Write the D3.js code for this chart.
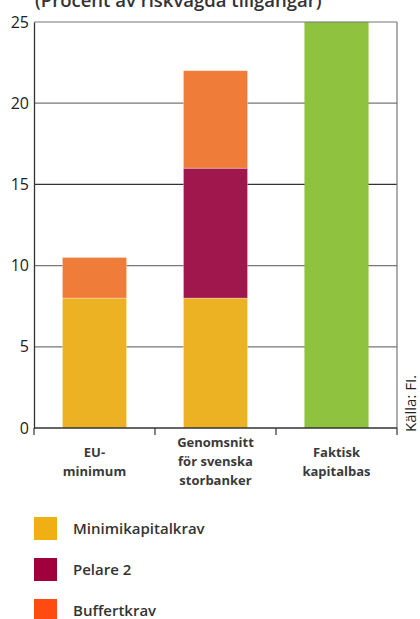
<!DOCTYPE html>
<html><head><meta charset="utf-8">
<script src="https://cdn.jsdelivr.net/npm/d3@7"></script>
<style>
html,body{margin:0;padding:0;background:#fff;}
svg{display:block;font-family:"Open Sans","DejaVu Sans",sans-serif;}
</style></head>
<body>
<svg id="chart" width="420" height="619"></svg>
<script>
// Capital requirements, percent of risk-weighted assets
const categories = [["EU-", "minimum"], ["Genomsnitt", "för svenska", "storbanker"], ["Faktisk", "kapitalbas"]];
const minimikapitalkrav = [8, 8, 0];
const pelare2 = [0, 8, 0];
const buffertkrav = [2.5, 6, 0];
const kapitalbas = [0, 0, 25];
const yTicks = [0, 5, 10, 15, 20, 25];
const seriesNames = ["Minimikapitalkrav", "Pelare 2", "Buffertkrav"];

const barColors = ["#ecb224", "#a0174e", "#f07c3a"];
const legendColors = ["#f0b014", "#a0003c", "#ff4a12"];
const baseColor = "#8fc33f";

const svg = d3.select("#chart");
const m = {left: 34, right: 397, top: 22, bottom: 428};

const idx = categories.map((_, i) => i);
const x = d3.scaleBand().domain(idx).range([m.left, m.right]).paddingInner(0.47).paddingOuter(0.235);
const y = d3.scaleLinear().domain([0, 25]).range([m.bottom, m.top]);

// title, sitting partly above the top edge
svg.append("text").attr("x", 35).attr("y", 7)
  .attr("font-size", 18.5).attr("font-weight", 600).attr("fill", "#333")
  .text("(Procent av riskvägda tillgångar)");

// gridlines
svg.append("g").selectAll("line").data(yTicks.filter(t => t > 0 && t < 25)).join("line")
  .attr("x1", m.left).attr("x2", m.right)
  .attr("y1", d => y(d)).attr("y2", d => y(d))
  .attr("stroke", d => d === 15 ? "#333" : "#777").attr("stroke-width", 1.2);

// stacked bars
const rows = idx.map(i => ({i, v: [minimikapitalkrav[i], pelare2[i], buffertkrav[i]]}));
const gBars = svg.append("g");
rows.forEach(r => {
  let acc = 0;
  r.v.forEach((v, s) => {
    if (v <= 0) return;
    gBars.append("rect")
      .attr("x", x(r.i)).attr("width", x.bandwidth())
      .attr("y", y(acc + v)).attr("height", y(acc) - y(acc + v))
      .attr("fill", barColors[s])
      .attr("stroke", "rgba(255,255,255,0.5)").attr("stroke-width", 0.6);
    acc += v;
  });
  if (kapitalbas[r.i] > 0) {
    gBars.append("rect")
      .attr("x", x(r.i)).attr("width", x.bandwidth())
      .attr("y", y(kapitalbas[r.i])).attr("height", y(0) - y(kapitalbas[r.i]))
      .attr("fill", baseColor);
  }
});

// frame: top and right
svg.append("line").attr("x1", m.left).attr("x2", m.right).attr("y1", m.top).attr("y2", m.top)
  .attr("stroke", "#777").attr("stroke-width", 1.2);
svg.append("line").attr("x1", m.right).attr("x2", m.right).attr("y1", m.top).attr("y2", m.bottom)
  .attr("stroke", "#777").attr("stroke-width", 1.2);

// y axis
const yAxis = svg.append("g").attr("transform", `translate(${m.left},0)`)
  .call(d3.axisLeft(y).tickValues(yTicks).tickSize(0).tickPadding(5));
yAxis.select(".domain").attr("stroke", "#333").attr("stroke-width", 1.3);
yAxis.selectAll("text").attr("font-size", 16).attr("fill", "#222")
  .attr("font-family", "'Open Sans','DejaVu Sans',sans-serif");

// x axis with boundary ticks
const gx = svg.append("g").attr("transform", `translate(0,${m.bottom})`);
gx.append("line").attr("x1", m.left).attr("x2", m.right).attr("stroke", "#333").attr("stroke-width", 1.5);
const bounds = idx.map(i => x(i) - x.step() * x.paddingInner() / 2).concat([m.right]);
bounds[0] = m.left;
gx.selectAll("line.tk").data(bounds).join("line").attr("class", "tk")
  .attr("x1", d => d).attr("x2", d => d).attr("y1", 0).attr("y2", 7)
  .attr("stroke", "#333").attr("stroke-width", 1.2);

categories.forEach((lines, i) => {
  const cx = x(i) + x.bandwidth() / 2;
  const lh = 19;
  const y0 = 466 - (lines.length - 1) * lh / 2;
  const t = svg.append("text").attr("text-anchor", "middle")
    .attr("font-size", 13).attr("font-weight", 700).attr("fill", "#3a3a3a");
  lines.forEach((l, k) => t.append("tspan").attr("x", cx).attr("y", y0 + k * lh).text(l));
});

// source
svg.append("text").attr("transform", "translate(416,432) rotate(-90)")
  .attr("font-size", 15).attr("font-weight", 500).attr("fill", "#222")
  .text("Källa: FI.");

// legend
const lg = svg.append("g");
seriesNames.forEach((n, i) => {
  const yy = 517 + i * 41;
  lg.append("rect").attr("x", 34).attr("y", yy).attr("width", 23).attr("height", 23).attr("fill", legendColors[i]);
  lg.append("text").attr("x", 73).attr("y", yy + 17)
    .attr("font-size", 15).attr("font-weight", 600).attr("fill", "#333").text(n);
});
</script>
</body></html>
